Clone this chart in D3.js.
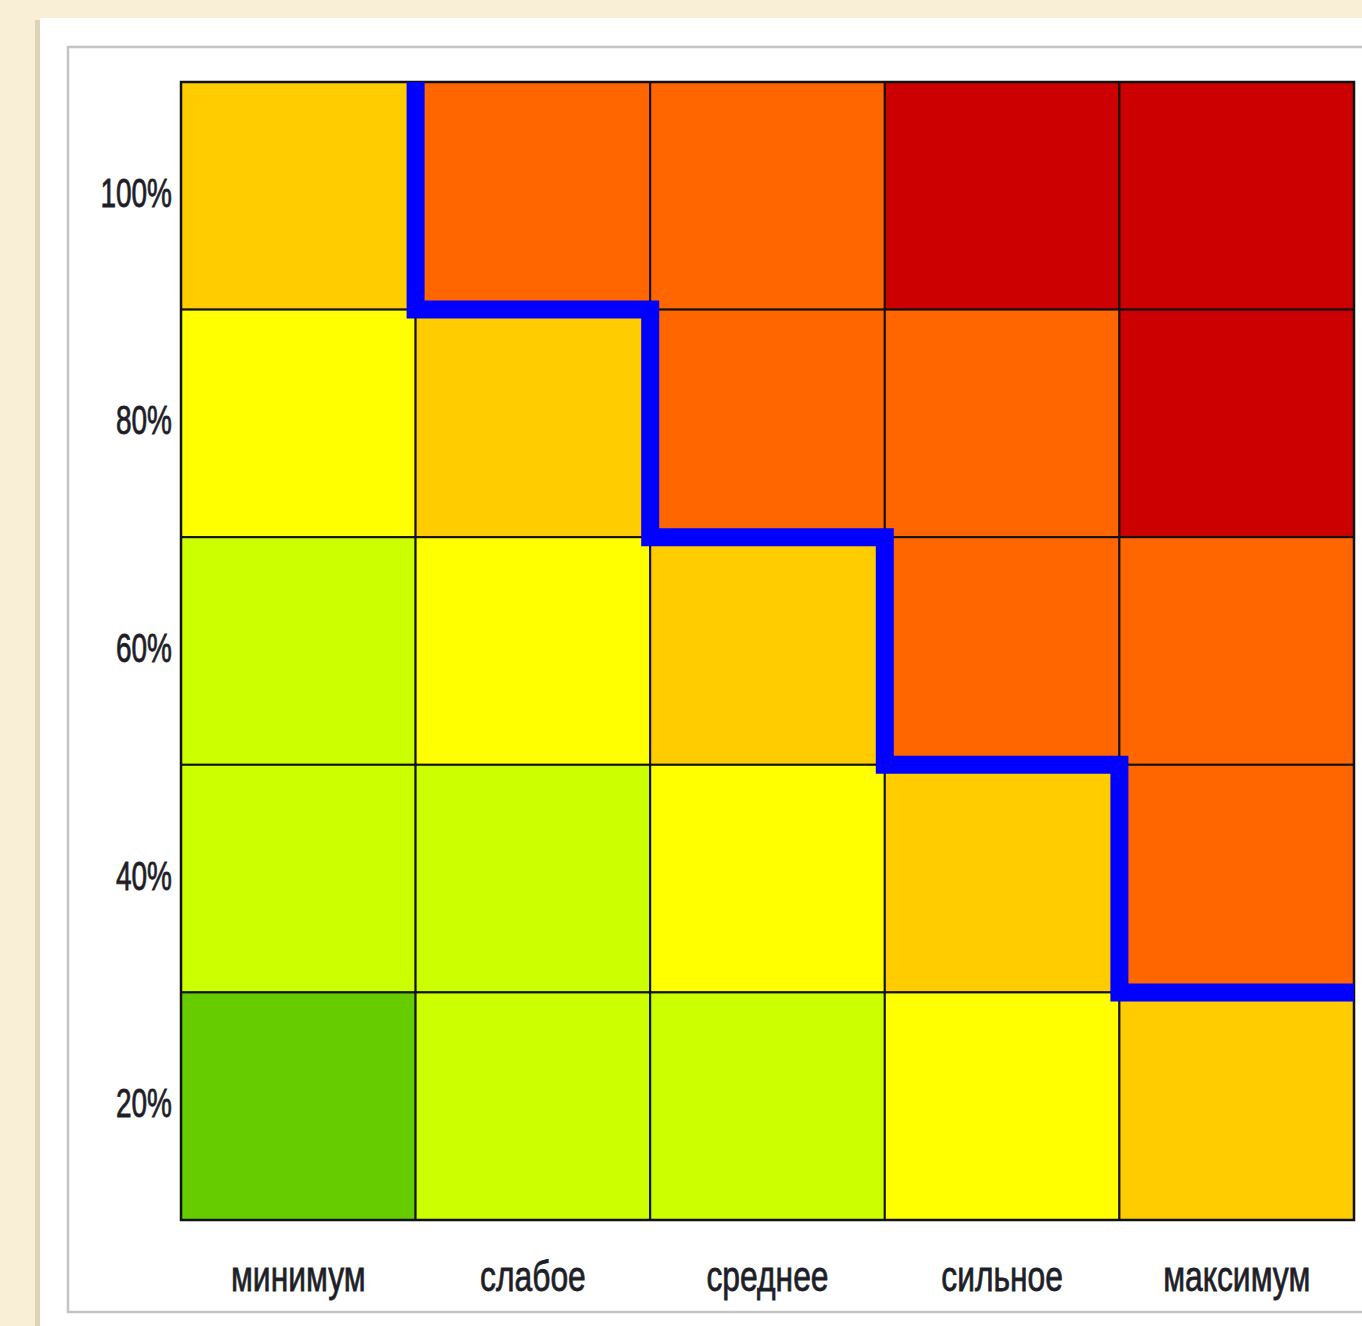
<!DOCTYPE html>
<html>
<head>
<meta charset="utf-8">
<script src="https://cdn.jsdelivr.net/npm/d3@7"></script>
<style>
  body { margin:0; background:#f8efd6; }
  svg { display:block; }
</style>
</head>
<body>
<script>

// impact levels (columns) and probability rows (top to bottom)
var levels = ["минимум","слабое","среднее","сильное","максимум"];
var rowLabels = ["100%","80%","60%","40%","20%"];

// colour per risk grade, 0 = lowest
var palette = ["#66cc00","#ccff00","#ffff00","#ffcc00","#ff6600","#cc0000"];

// risk grade of each cell, rows in the order of rowLabels
var riskMatrix = [
  [3,4,4,5,5],
  [2,3,4,4,5],
  [1,2,3,4,4],
  [1,1,2,3,4],
  [0,1,1,2,3]
];

// the blue border: for each column, the lowest row still above the line
var borderSteps = [
  {col:"слабое",   row:"100%"},
  {col:"среднее",  row:"80%"},
  {col:"сильное",  row:"60%"},
  {col:"максимум", row:"40%"}
];

var W = 1362, H = 1326;

var svg = d3.select("body")
    .append("svg")
    .attr("width",W)
    .attr("height",H);

// page background + panel
svg.append("rect").attr("x",0).attr("y",0).attr("width",W).attr("height",H).attr("fill","#f8efd6");
svg.append("rect").attr("x",35).attr("y",20).attr("width",8).attr("height",H).attr("fill","#ddd3b6");
svg.append("rect").attr("x",40).attr("y",18).attr("width",W).attr("height",H).attr("fill","#ffffff");
svg.append("rect").attr("x",68).attr("y",47).attr("width",W).attr("height",1265)
    .attr("fill","none").attr("stroke","#c4c4c4").attr("stroke-width",2.5);

var margins = {top:82, left:181, right:8, bottom:106};
var width = W-margins.left-margins.right;
var height = H-margins.top-margins.bottom;

var xScale = d3.scaleBand()
    .domain(levels)
    .range([0,width]);
var yScale = d3.scaleBand()
    .domain(rowLabels)
    .range([0,height]);

var plot = svg.append("g")
    .classed("plot",true)
    .attr("transform","translate("+margins.left+","+margins.top+")");

var rows = plot.selectAll("g.row")
    .data(riskMatrix)
    .enter()
    .append("g")
    .classed("row",true);

rows.selectAll("rect")
    .data(function(d,i){
      return d.map(function(v,j){return {row:rowLabels[i], col:levels[j], v:v};});
    })
    .enter()
    .append("rect")
    .attr("x",function(d){return xScale(d.col);})
    .attr("y",function(d){return yScale(d.row);})
    .attr("width",xScale.bandwidth())
    .attr("height",yScale.bandwidth())
    .attr("fill",function(d){return palette[d.v];})
    .attr("stroke","#111")
    .attr("stroke-width",2);

plot.append("rect")
    .attr("width",width).attr("height",height)
    .attr("fill","none").attr("stroke","#111").attr("stroke-width",2.5);

// step line
var pts = [[xScale(borderSteps[0].col),0]];
borderSteps.forEach(function(d,i){
  var y = yScale(d.row)+yScale.bandwidth();
  pts.push([xScale(d.col),y]);
  var nx = i<borderSteps.length-1 ? xScale(borderSteps[i+1].col) : width;
  pts.push([nx,y]);
});

plot.append("path")
    .attr("d",d3.line()(pts))
    .attr("fill","none")
    .attr("stroke","#0000ff")
    .attr("stroke-width",18)
    .attr("stroke-linejoin","miter")
    .attr("stroke-linecap","butt");

// labels (text looks horizontally squeezed in the original)
var font = "'Liberation Sans', Arial, sans-serif";

plot.selectAll("text.ylab")
    .data(rowLabels)
    .enter()
    .append("text")
    .classed("ylab",true)
    .attr("transform",function(d){
      return "translate(-9,"+(yScale(d)+yScale.bandwidth()/2+11)+") scale(0.7,1)";
    })
    .attr("text-anchor","end")
    .attr("font-family",font)
    .attr("font-size",40)
    .attr("fill","#1e1e28")
    .attr("stroke","#1e1e28")
    .attr("stroke-width",0.8)
    .text(function(d){return d;});

plot.selectAll("text.xlab")
    .data(levels)
    .enter()
    .append("text")
    .classed("xlab",true)
    .attr("transform",function(d){
      return "translate("+(xScale(d)+xScale.bandwidth()/2)+","+(height+71)+") scale(0.74,1)";
    })
    .attr("text-anchor","middle")
    .attr("font-family",font)
    .attr("font-size",43)
    .attr("fill","#1e1e28")
    .attr("stroke","#1e1e28")
    .attr("stroke-width",0.8)
    .text(function(d){return d;});

</script>
</body>
</html>
